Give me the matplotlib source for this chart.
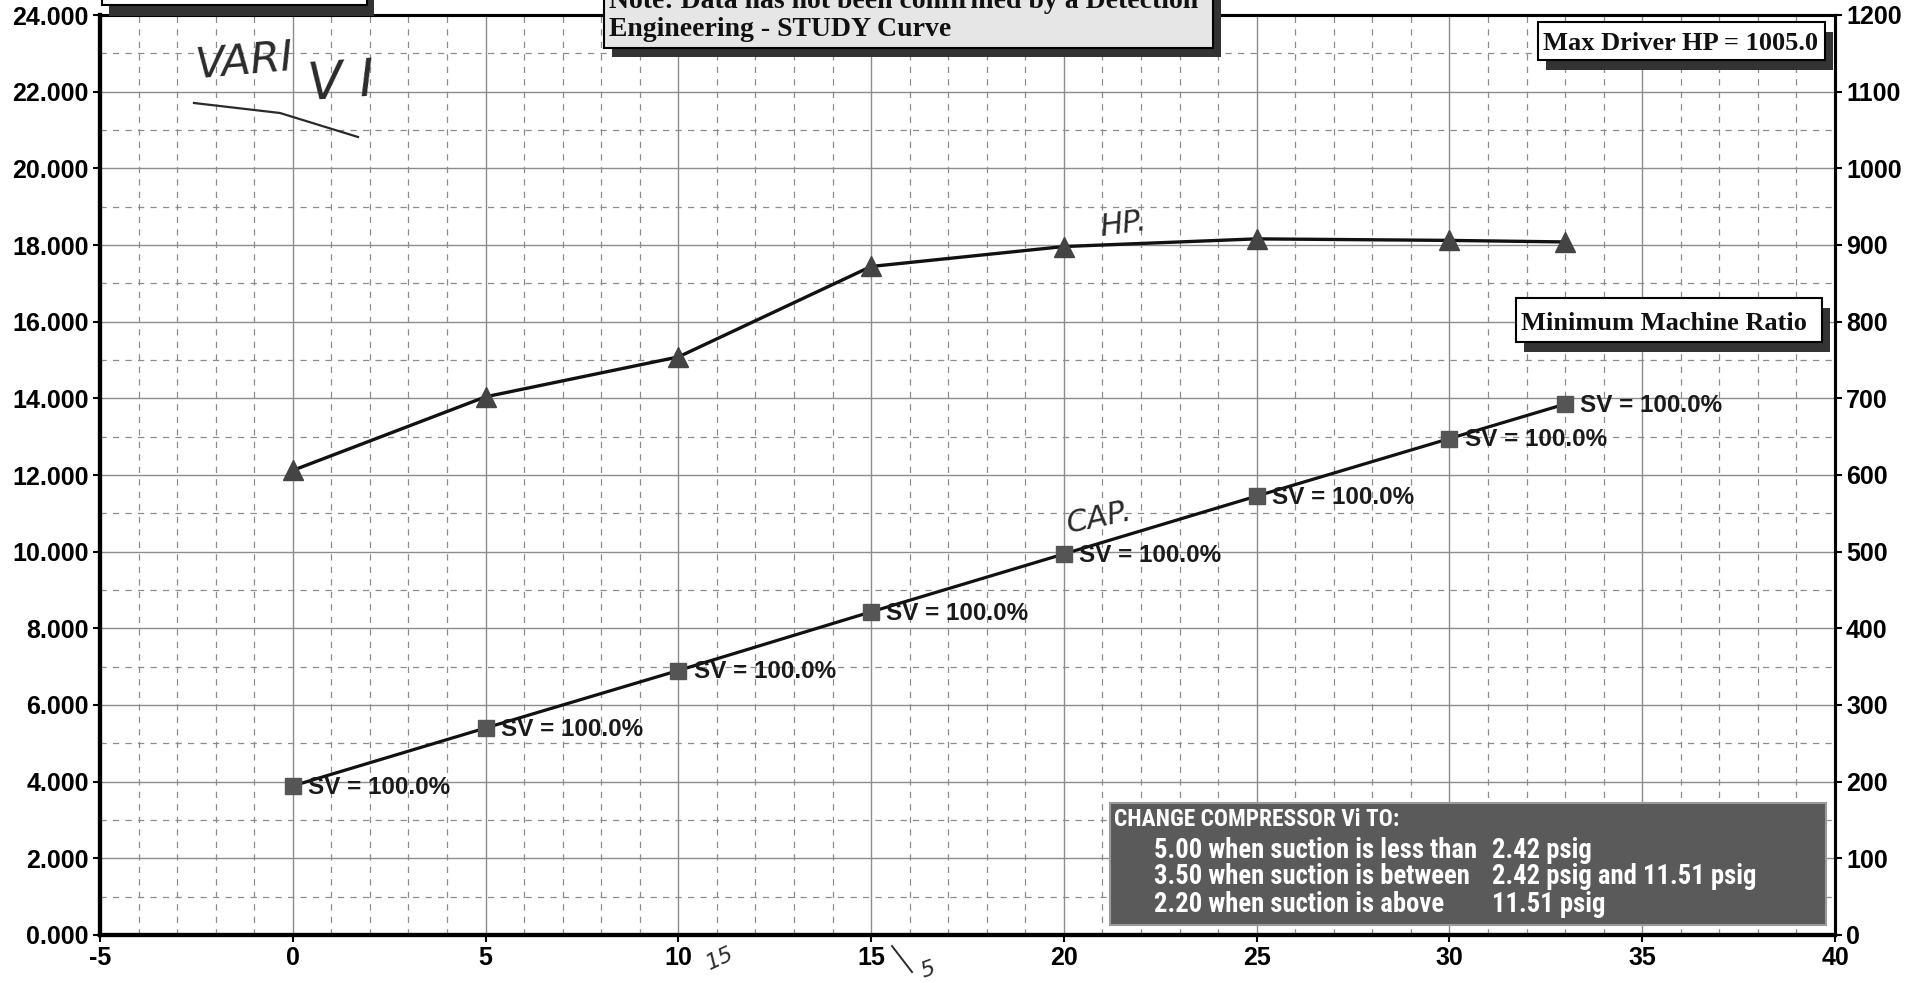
import matplotlib.pyplot as plt
from matplotlib.patches import Rectangle
from matplotlib.ticker import MultipleLocator, FormatStrFormatter
from matplotlib import font_manager

plt.rcParams['axes.unicode_minus'] = False
plt.rcParams['font.family'] = ['Liberation Sans', 'DejaVu Sans']

# data
suction = [0, 5, 10, 15, 20, 25, 30, 33]
hp_vals = [606, 702, 754, 872, 898, 908, 906, 904]
cap_vals = [3.89, 5.40, 6.90, 8.43, 9.94, 11.45, 12.95, 13.85]
sv_labels = ["SV = 100.0%"] * len(suction)

x_lim = (-5, 40)
cap_lim = (0, 24)
hp_lim = (0, 1200)

vi_title = "CHANGE COMPRESSOR Vi TO:"
vi_left = ["5.00 when suction is less than",
           "3.50 when suction is between",
           "2.20 when suction is above"]
vi_right = ["2.42 psig", "2.42 psig and 11.51 psig", "11.51 psig"]

note_lines = ["Note: Data has not been confirmed by a Detection",
              "Engineering - STUDY Curve"]
max_hp_text = "Max Driver HP = 1005.0"
min_ratio_text = "Minimum Machine Ratio"

serif = ['Liberation Serif', 'DejaVu Serif']

# pick a condensed face for the Vi box if one is around
installed = {f.name for f in font_manager.fontManager.ttflist}
narrow = 'Liberation Sans'
for name in ['Liberation Sans Narrow', 'Roboto Condensed',
             'DejaVu Sans Condensed', 'Open Sans Condensed']:
    if name in installed:
        narrow = name
        break

W, H = 1910, 983
fig = plt.figure(figsize=(W / 100, H / 100), dpi=100)
ax = fig.add_axes([100 / W, 48 / H, 1735 / W, 920 / H])
ax2 = ax.twinx()

# capacity (left axis)
ax.plot(suction, cap_vals, color='#111111', lw=2.3, marker='s', ms=11,
        mfc='#555555', mec='#555555', zorder=3)
for x, y, lab in zip(suction, cap_vals, sv_labels):
    ax.annotate(lab, (x, y), xytext=(11, -1), textcoords='offset points',
                ha='left', va='center', fontsize=17.5, fontweight='bold',
                color='#1a1a1a', zorder=4)

# horsepower (right axis)
ax2.plot(suction, hp_vals, color='#111111', lw=2.4, marker='^', ms=14,
         mfc='#444444', mec='#444444', zorder=3)

ax.set_xlim(*x_lim)
ax.set_ylim(*cap_lim)
ax2.set_ylim(*hp_lim)

ax.xaxis.set_major_locator(MultipleLocator(5))
ax.xaxis.set_minor_locator(MultipleLocator(1))
ax.yaxis.set_major_locator(MultipleLocator(2))
ax.yaxis.set_minor_locator(MultipleLocator(1))
ax.yaxis.set_major_formatter(FormatStrFormatter('%.3f'))
ax2.yaxis.set_major_locator(MultipleLocator(100))
ax2.yaxis.set_major_formatter(FormatStrFormatter('%d'))

ax.grid(which='major', color='#8c8c8c', lw=1.0, ls='-')
ax.grid(which='minor', color='#8c8c8c', lw=0.9, ls=(0, (5, 5)))
ax.set_axisbelow(True)

for a in (ax, ax2):
    a.tick_params(which='major', length=5, width=1.5, direction='out',
                  labelsize=18, pad=3)
    a.tick_params(which='minor', length=0)
    for t in a.get_xticklabels() + a.get_yticklabels():
        t.set_fontweight('bold')
    a.spines['left'].set_linewidth(3)
    a.spines['bottom'].set_linewidth(3)
    a.spines['top'].set_linewidth(2.2)
    a.spines['right'].set_linewidth(2.2)

# overlay in pixel coordinates for the boxes and the handwriting
ov = fig.add_axes([0, 0, 1, 1], zorder=10)
ov.set_xlim(0, W)
ov.set_ylim(H, 0)
ov.axis('off')
ov.patch.set_alpha(0)


def shadow_box(x0, y0, x1, y1, face, edge='black', dx=9, dy=9):
    ov.add_patch(Rectangle((x0 + dx, y0 + dy), x1 - x0, y1 - y0,
                           fc='#333333', ec='none'))
    ov.add_patch(Rectangle((x0, y0), x1 - x0, y1 - y0,
                           fc=face, ec=edge, lw=1.5))


# top-left box (cut off by the scan)
shadow_box(102, -40, 367, 5, 'white', dx=7, dy=11)

# note box
shadow_box(604, -40, 1213, 48, '#e6e6e6', dx=8, dy=9)
ov.text(609, 8, note_lines[0], family=serif, fontweight='bold',
        fontsize=20, ha='left', va='baseline', color='#111111')
ov.text(609, 36, note_lines[1], family=serif, fontweight='bold',
        fontsize=20, ha='left', va='baseline', color='#111111')

# max driver HP box
shadow_box(1538, 22, 1825, 60, 'white', dx=8, dy=10)
ov.text(1543, 50, max_hp_text, family=serif, fontweight='bold',
        fontsize=19, ha='left', va='baseline', color='#111111')

# minimum machine ratio box
shadow_box(1516, 298, 1822, 342, 'white', dx=8, dy=10)
ov.text(1521, 330, min_ratio_text, family=serif, fontweight='bold',
        fontsize=19, ha='left', va='baseline', color='#111111')

# Vi change box
ov.add_patch(Rectangle((1110, 803), 716, 122, fc='#5a5a5a', ec='#9a9a9a',
                       lw=1.5))
vi_style = dict(family=[narrow, 'DejaVu Sans'], fontweight='bold',
                fontsize=16, ha='left', va='center', color='white')
head = ov.text(1114, 819, vi_title, **vi_style)
rows = []
for i, (l, r) in enumerate(zip(vi_left, vi_right)):
    yy = 850 + i * 27
    rows.append(ov.text(1154, yy, l, **vi_style))
    rows.append(ov.text(1492, yy, r, **vi_style))

# fit the box texts to the widths seen on the scan
fig.canvas.draw()
rend = fig.canvas.get_renderer()
hw = head.get_window_extent(rend).width
head.set_fontsize(16 * 285 / hw)
rw = rows[0].get_window_extent(rend).width
for t in rows:
    t.set_fontsize(16 * 322 / rw)

# handwritten notes
hand = dict(style='italic', color='#2a2a2a', family='DejaVu Sans')
ov.text(194, 78, "VARI", fontsize=31, ha='left', va='baseline', rotation=5,
        **hand)
ov.text(306, 100, "V I", fontsize=37, ha='left', va='baseline', rotation=4,
        **hand)
ov.plot([194, 280, 358], [103, 113, 137], color='#2a2a2a', lw=1.6)
ov.text(1098, 236, "HP.", fontsize=22, ha='left', va='baseline', rotation=8,
        **hand)
ov.text(1064, 533, "CAP.", fontsize=22, ha='left', va='baseline',
        rotation=12, **hand)
ov.text(703, 970, "15", fontsize=16, ha='left', va='baseline', rotation=25,
        **hand)
ov.plot([892, 912], [946, 972], color='#2a2a2a', lw=1.4)
ov.text(918, 978, "5", fontsize=16, ha='left', va='baseline', rotation=20,
        **hand)

fig.savefig('out.png', dpi=100)
